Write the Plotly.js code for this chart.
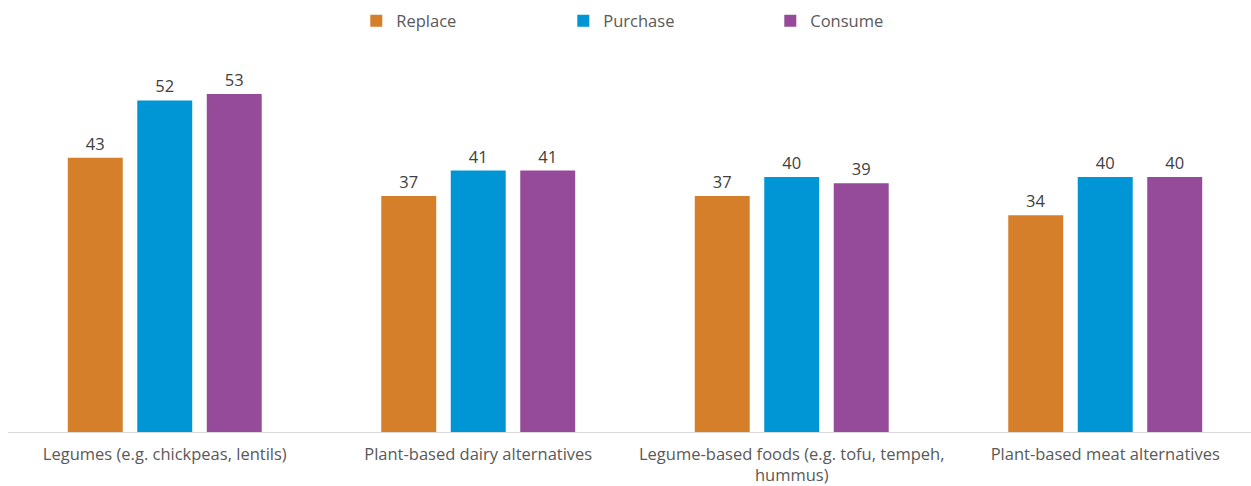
<!DOCTYPE html>
<html>
<head>
<meta charset="utf-8">
<script src="https://cdn.plot.ly/plotly-3.0.1.min.js"></script>
<style>html,body{margin:0;padding:0;background:#fff;}#chart{width:1251px;height:486px;}</style>
</head>
<body>
<div id="chart"></div>
<script>
const categories = [
  "Legumes (e.g. chickpeas, lentils)",
  "Plant-based dairy alternatives",
  "Legume-based foods (e.g. tofu, tempeh,<br>hummus)",
  "Plant-based meat alternatives"
];
const seriesNames = ["Replace", "Purchase", "Consume"];
const replaceVals = [43, 37, 37, 34];
const purchaseVals = [52, 41, 40, 40];
const consumeVals = [53, 41, 39, 40];
const colors = ["#D57F2B", "#0096D6", "#954B9A"];

const allVals = [replaceVals, purchaseVals, consumeVals];
const traces = allVals.map((vals, i) => ({
  type: "bar",
  name: seriesNames[i],
  x: categories,
  y: vals,
  marker: {color: colors[i]},
  text: vals.map(String),
  textposition: "outside",
  cliponaxis: false,
  textfont: {family: "Open Sans", size: 16.5, color: "#404040"},
  hoverinfo: "none"
}));

const layout = {
  width: 1251,
  height: 486,
  margin: {l: 8, r: 0, t: 40, b: 54},
  paper_bgcolor: "#ffffff",
  plot_bgcolor: "#ffffff",
  font: {family: "Open Sans", size: 16.5, color: "#595959"},
  barmode: "group",
  bargap: 0.335,
  bargroupgap: 0.209,
  xaxis: {
    type: "category",
    range: [-0.5, 3.465],
    showline: true,
    linecolor: "#D9D9D9",
    linewidth: 1,
    ticks: "",
    ticklabelstandoff: 7,
    showgrid: false,
    zeroline: false,
    tickfont: {family: "Open Sans", size: 16.5, color: "#595959"},
    automargin: false
  },
  yaxis: {
    range: [0, 61.47],
    visible: false,
    showgrid: false,
    zeroline: false
  },
  showlegend: true,
  legend: {
    orientation: "h",
    x: 0.53,
    xanchor: "center",
    y: 1.0485,
    yanchor: "middle",
    entrywidth: 162,
    font: {family: "Open Sans", size: 16.5, color: "#595959"},
    itemclick: false
  }
};

Plotly.newPlot("chart", traces, layout, {displayModeBar: false, staticPlot: true});
</script>
</body>
</html>
